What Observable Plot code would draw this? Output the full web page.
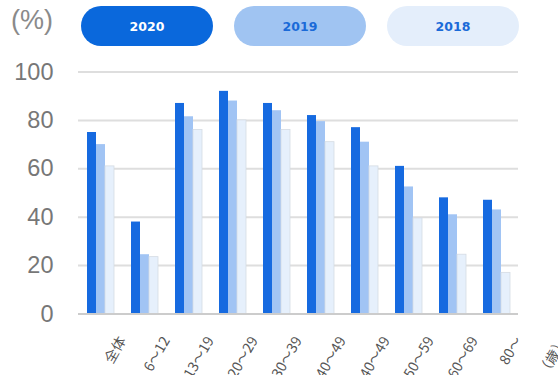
<!DOCTYPE html>
<html><head><meta charset="utf-8">
<script src="https://cdn.jsdelivr.net/npm/d3@7"></script>
<script src="https://cdn.jsdelivr.net/npm/@observablehq/plot@0.6"></script>
<style>
html,body{margin:0;padding:0;background:#fff}
body{width:558px;height:375px;overflow:hidden;position:relative;font-family:"Liberation Sans",Arial,sans-serif}
#head{position:relative;height:52px}
.unit{position:absolute;left:11px;top:5px;font-size:27px;color:#8a8a8a;font-family:"Liberation Sans",Arial,sans-serif}
.pill{position:absolute;top:6px;width:132px;height:40px;border-radius:20px;display:flex;align-items:center;justify-content:center;font-weight:bold;font-size:12.5px;font-family:"DejaVu Sans",sans-serif}
#chart svg{display:block;overflow:visible}
#agelab{position:absolute;right:-4px;top:329px;height:18px;line-height:18px;font-size:14px;color:#555;font-family:"Noto Sans CJK JP",sans-serif;white-space:nowrap;transform-origin:right center;transform:rotate(-60deg)}
</style></head>
<body>
<div id="head"></div>
<div id="chart"></div>
<div id="agelab"></div>
<script>
const ages = ["全体","6～12","13～19","20～29","30～39","40～49","40～49","50～59","60～69","80～"];
const years = ["2020","2019","2018"];
const v2020 = [75, 38, 87, 92, 87, 82, 77, 61, 48, 47];
const v2019 = [70, 24.5, 81.5, 88, 84, 79.5, 71, 52.5, 41, 43];
const v2018 = [61, 23.5, 76, 80, 76, 71, 61, 39.5, 24.5, 17];
const yTicks = [0, 20, 40, 60, 80, 100];
const unitY = "(%)";
const unitX = "（歳）";
const barColors = ["#166ae0", "#a1c4f4", "#e6f0fc"];
const pillText = ["#ffffff", "#1a6ad8", "#1a6ad8"];
const pillFill = ["#0a68dc", "#a0c4f2", "#e4eefb"];

const series = [v2020, v2019, v2018];
const data = ages.flatMap((a, i) => years.map((y, j) => ({g: i, year: y, value: series[j][i]})));

// header: unit + legend pills
const head = document.getElementById("head");
const u = document.createElement("div");
u.className = "unit"; u.textContent = unitY; head.appendChild(u);
const pillLeft = [81, 234, 387];
years.forEach((y, j) => {
  const p = document.createElement("div");
  p.className = "pill";
  p.style.left = pillLeft[j] + "px";
  p.style.background = pillFill[j];
  p.style.color = pillText[j];
  p.textContent = y;
  head.appendChild(p);
});
document.getElementById("agelab").textContent = unitX;

const chart = Plot.plot({
  width: 558, height: 323,
  marginLeft: 78, marginRight: 40, marginTop: 19.5, marginBottom: 61.5,
  style: {fontFamily: "Liberation Sans, Arial, sans-serif", background: "transparent", overflow: "visible"},
  fx: {domain: d3.range(ages.length), padding: 0},
  x: {domain: years, paddingInner: 0, paddingOuter: 0.77, axis: null},
  y: {domain: [0, 100], axis: null},
  color: {domain: years, range: barColors},
  marks: [
    Plot.ruleY(yTicks.filter(d => d > 0), {stroke: "#dedede", strokeWidth: 2}),
    Plot.barY(data, {fx: "g", x: "year", y: "value", fill: "year"}),
    Plot.barY(data, {filter: d => d.year === "2018", fx: "g", x: "year", y: "value", fill: "none", stroke: "#d5dbe3", strokeWidth: 0.8}),
    Plot.ruleY([0], {stroke: "#cccccc", strokeWidth: 2}),
    Plot.axisY({ticks: yTicks, tickSize: 0, tickPadding: 25, fontSize: 23.5, fill: "#777", label: null}),
    Plot.axisFx({anchor: "bottom", tickFormat: i => ages[i], tickRotate: -60, tickSize: 0, tickPadding: 24, dx: 22,
                 fontSize: 14, fill: "#555", fontFamily: "Noto Sans CJK JP, sans-serif", label: null})
  ]
});
document.getElementById("chart").appendChild(chart);
</script>
</body></html>
